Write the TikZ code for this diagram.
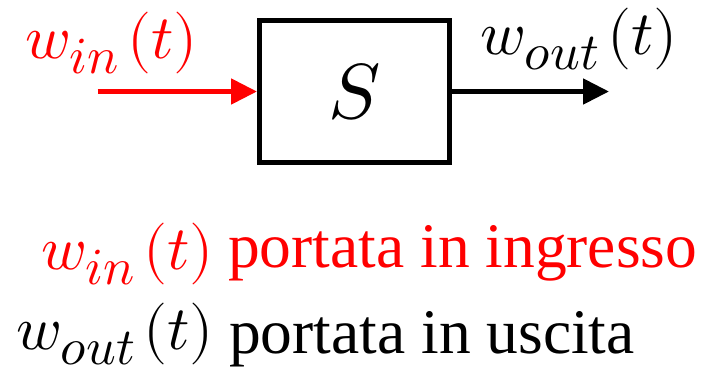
\documentclass[tikz,border=0pt]{standalone}
\usepackage{fontspec}
\usepackage{unicode-math}
\setmainfont{Liberation Serif}
\setmathfont{Latin Modern Math}
\DeclareMathSizes{62}{62}{52}{42}
\usetikzlibrary{arrows.meta}
\definecolor{pptred}{RGB}{255,0,0}
\newcommand{\subgap}{\kern8pt}
\tikzset{
  blockbox/.style={draw=black, line width=5pt, minimum width=190pt, minimum height=142pt, inner sep=0pt, font=\fontsize{78}{90}\selectfont},
  flowarrow/.style={line width=5pt, -{Triangle[length=26pt,width=25pt]}},
  mathlabel/.style={anchor=base west, inner sep=0pt, font=\fontsize{62}{74}\selectfont},
  textlabel/.style={anchor=base west, inner sep=0pt, font=\fontsize{63.5}{76}\selectfont},
}
\begin{document}
\begin{tikzpicture}[x=1pt,y=-1pt]
\useasboundingbox (0,0) rectangle (709,373);
\node[blockbox] (box) at (354.5,91.5) {$S$};
\coordinate (inStart) at (97.7,91.5);
\coordinate (outEnd) at (609,91.5);
\draw[flowarrow, pptred] (inStart) -- (box.west);
\draw[flowarrow, black] (box.east) -- (outEnd);
\node[mathlabel, text=pptred] (inLabel) at (25,58) {$w_{in}\subgap(t)$};
\node[mathlabel] (outLabel) at (480,54) {$w_{out}\subgap(t)$};
\node[mathlabel, text=pptred] (inLegendMath) at (41,269) {$w_{in}\subgap(t)$};
\node[textlabel, text=pptred] (inLegendText) at (228,267) {portata in ingresso};
\node[mathlabel] (outLegendMath) at (16,349) {$w_{out}\subgap(t)$};
\node[textlabel] (outLegendText) at (229,353) {portata in uscita};
\end{tikzpicture}
\end{document}
